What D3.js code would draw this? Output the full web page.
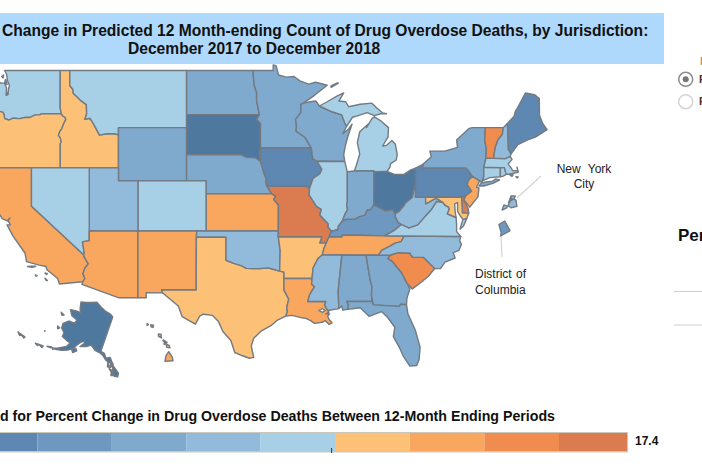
<!DOCTYPE html>
<html>
<head>
<meta charset="utf-8">
<script src="https://cdn.jsdelivr.net/npm/d3@7"></script>
<style>
  html, body { margin: 0; padding: 0; background: #fff; overflow: hidden; }
  svg { display: block; font-family: "Liberation Sans", Arial, sans-serif; }
</style>
</head>
<body>
<svg id="chart" width="702" height="468"></svg>
<script>
// Percent change per jurisdiction (estimates inside each legend bin)
const jurisdictions = ["WA","OR","ID","MT","WY","ND","SD","NE","KS","CO","UT","NV","CA","AZ","NM","TX","OK","MN","IA","MO","AR","LA","WI","IL","MI","IN","OH","KY","TN","MS","AL","GA","FL","SC","NC","VA","WV","PA","NY","NJ","DE","MD","CT","RI","MA","VT","NH","ME","AK","HI","DC","NYC"];
const percentChange = [-2.5,2.5,2.2,-2.8,-11.5,-11,-24,-11.5,6,-2,-7,-3,6.5,6.3,6.8,2.8,-7,-11,-20,14.5,3,6,-10.5,-3,-2.6,-11,-23,-15,6,-7.5,-10,-11,-10,10.5,-7,-3,-7.5,-19.5,-10.5,7,15,3.2,-3.5,-3,-3.5,11,-7,-19,-25,6.2,-13.5,-6];

const legendThresholds = [-22,-17.6,-13.2,-8.8,-4.4,0,4.4,8.8,13.2];
const legendColors = ["#4f789f","#5e88b2","#6f98c0","#7fa9cd","#92bbdb","#a7cfe6","#fdc077","#f9a65e","#ef8c4e","#da7c50"];
const legendMax = 17.4;

// Shared borders, lon/lat pairs
const colRiver = [-124,46.27,-123.5,46.27,-123.2,46.15,-122.9,46.1,-122.8,45.9,-122.75,45.65,-122.3,45.55,-121.9,45.68,-121.2,45.65,-120.65,45.73,-120.2,45.73,-119.6,45.92,-119.1,45.93,-118.98,46,-116.92,46];
const snake = [-116.92,46,-116.78,45.85,-116.55,45.75,-116.46,45.6,-116.67,45.3,-116.85,44.95,-117.05,44.75,-117.22,44.45,-117.03,44.25,-116.97,44.1,-116.93,43.95,-117.03,43.83,-117.03,42];
const bitterroot = [-116.05,49,-116.05,47.98,-115.72,47.7,-115.7,47.45,-114.95,46.95,-114.35,46.65,-114.32,46,-114.5,45.6,-114,45.68,-113.8,45.5,-113.45,45.05,-113,44.45,-112.3,44.55,-111.5,44.55,-111.05,44.48];
const redNorth = [-97.23,49,-97.1,48,-96.85,47.5,-96.85,46.9,-96.56,45.94];
const traverse = [-96.56,45.94,-96.85,45.6,-96.45,45.3,-96.45,43.5];
const missouriUpper = [-96.45,42.49,-97,42.77,-97.9,42.8,-98.5,43];
const missouriLower = [-96.45,42.49,-96.25,42,-96.1,41.6,-95.88,41.2,-95.85,40.7,-95.77,40.58];
const missouriKs = [-95.31,40,-94.9,39.8,-95.1,39.55,-94.61,39.1];
const mississippiTop = [-92.3,46.66,-92.3,46.1,-92.85,45.6,-92.75,45.1,-92.8,44.75,-91.9,44.3,-91.22,43.5];
const mississippiWi = [-91.22,43.5,-91.1,42.7,-90.65,42.5];
const mississippiIl = [-90.65,42.5,-90.15,41.9,-90.35,41.55,-91.05,41.2,-91.42,40.38];
const mississippiMo = [-91.42,40.38,-91.45,39.9,-90.7,39,-90.2,38.75,-90.35,38.3,-89.5,37.6,-89.5,37.3,-89.15,36.98];
const mississippiAr = [-89.7,36,-89.95,35.5,-90.1,35,-90.55,34.7,-91.05,33.9,-91.15,33];
const mississippiLa = [-91.15,33,-91.2,32.5,-90.9,32.3,-91.4,31.6,-91.6,31];
const pearlRiver = [-89.73,31,-89.85,30.65,-89.55,30.2];
const redSouth = [-100,34.56,-99.2,34.3,-98.5,34.12,-97.9,33.87,-97.2,33.85,-96.6,33.85,-95.6,33.9,-94.48,33.64];
const sabine = [-94.04,32,-93.55,31.2,-93.75,30.5,-93.7,30.1,-93.85,29.7];
const colorado = [-114.72,32.72,-114.5,33,-114.7,33.4,-114.5,33.9,-114.15,34.25,-114.55,34.8,-114.63,35];
const nvAz = [-114.63,35,-114.57,35.2,-114.75,36.1,-114.05,36.2];
const wabash = [-87.53,39.35,-87.6,39.1,-87.5,38.75,-87.75,38.4,-88.05,37.8];
const ohioIl = [-88.05,37.8,-88.45,37.4,-88.5,37.1,-89.15,36.98];
const ohioIn = [-84.82,39.1,-85.15,38.7,-85.45,38.72,-85.75,38.27,-86.3,38.15,-86.8,37.95,-87.6,37.95,-88.05,37.8];
const ohioOh = [-80.52,40.64,-80.65,40.4,-80.85,39.7,-81.55,39.27,-81.75,39,-82.2,38.6,-82.6,38.42];
const ohioKy = [-82.6,38.42,-82.85,38.72,-83.65,38.63,-84.25,38.9,-84.82,39.1];
const bigSandy = [-82.6,38.42,-82.6,38.15,-82.3,37.7,-81.97,37.54];
const kyVa = [-81.97,37.54,-82.7,37.05,-83.68,36.6];
const tnKy = [-83.68,36.6,-86.5,36.65,-88.07,36.65,-88.07,36.5,-89.42,36.5];
const tnNc = [-81.68,36.59,-82,36.12,-82.6,36,-83.1,35.77,-84,35.4,-84.32,34.99];
const alGa = [-85.6,34.98,-85.18,32.87,-85,32.3,-85.05,31.55,-85,31];
const savannah = [-83.1,35,-83.35,34.7,-82.9,34.47,-81.95,33.5,-81.4,32.6,-81.1,32.1];
const ncSc = [-83.1,35,-82.3,35.2,-81.05,35.15,-81.05,35.05,-80.8,34.82,-79.68,34.8,-78.55,33.86];
const potomac = [-76.35,38.1,-76.95,38.3,-77.25,38.4,-77.04,38.79,-77.12,38.93,-77.5,39.1,-77.72,39.32];
const vaWv = [-77.72,39.32,-78.35,39.4,-78.87,38.77,-79.3,38.4,-80.3,37.5,-81.2,37.25,-81.97,37.54];
const delaware = [-74.7,41.36,-75.1,41,-75.2,40.7,-74.75,40.2,-75.42,39.8];
const ctRiver = [-71.5,45,-71.6,44.5,-72.05,44.1,-72.3,43.6,-72.45,43,-72.46,42.73];
const nhMe = [-71.08,45.3,-71.03,44.65,-70.98,43.4,-70.7,43.07];

// Flat pair lists: reverse keeps each lon with its lat
const rev = flat => d3.range(flat.length - 2, -1, -2).flatMap(i => [flat[i], flat[i + 1]]);

const shapeWA = [[-122.75,49,-117.03,49,-117.04,46.42,...rev(colRiver),-124.1,46.9,-124.7,48.38,-123.1,48.15,-122.75,48.14,-122.55,47.8,-122.6,47.3,-122.4,47.35,-122.35,47.75,-122.25,47.98,-122.45,48.3,-122.55,48.75],[-122.75,48.18,-122.5,48.05,-122.65,48.4],[-123.05,48.6,-122.85,48.7,-122.9,48.5],[-122.55,47.5,-122.45,47.5,-122.5,47.35]];
const shapeOR = [[...colRiver,...snake,-124.2,42,-124.55,42.85,-124.1,44]];
const shapeID = [[-117.03,49,...bitterroot,-111.05,42,...rev(snake),-117.04,46.42]];
const shapeMT = [[...bitterroot.slice(0,2),-104.05,49,-104.05,45,-111.05,45,...rev(bitterroot).slice(0,-2)]];
const shapeWY = [[-111.05,45,-104.05,45,-104.05,41,-111.05,41]];
const shapeND = [[-104.05,49,...redNorth,-104.05,45.94]];
const shapeSD = [[-104.05,45.94,...traverse,-96.6,43.1,...missouriUpper,-104.05,43]];
const shapeNE = [[-104.05,43,...rev(missouriUpper),...missouriLower,-95.31,40,-102.05,40,-102.05,41,-104.05,41]];
const shapeKS = [[-102.05,40,...missouriKs,-94.62,37,-102.05,37]];
const shapeCO = [[-109.05,41,-102.05,41,-102.05,37,-109.05,37]];
const shapeUT = [[-114.05,42,-111.05,42,-111.05,41,-109.05,41,-109.05,37,-114.05,37]];
const shapeNV = [[-120,42,-114.05,42,...rev(nvAz),-120,39]];
const shapeCA = [[-124.2,42,-120,42,-120,39,-114.63,35,...rev(colorado),-117.12,32.53,-117.3,33,-118.4,33.75,-118.5,34.03,-119.2,34.15,-120.5,34.45,-120.65,35.15,-121.9,36.6,-122.5,37.5,-122.15,37.5,-122.4,37.85,-122.2,38.05,-122.5,37.82,-123,38,-123.7,38.9,-124.35,40.3,-124.1,41],[-120.4,34.03,-120,34.05,-119.55,34.05,-119.9,33.95],[-118.6,33.48,-118.35,33.42,-118.45,33.35],[-118.6,33.03,-118.35,32.82,-118.5,32.85],[-119.6,33.3,-119.4,33.25,-119.5,33.2]];
const shapeAZ = [[-109.05,37,-109.05,31.33,-111.07,31.33,-114.8,32.5,...colorado,...nvAz,-114.05,37]];
const shapeNM = [[-109.05,37,-103,37,-103.04,36.5,-103.06,32,-106.62,32,-106.5,31.75,-108.2,31.78,-108.2,31.33,-109.05,31.33]];
const shapeTX = [[-103.04,36.5,-100,36.5,...redSouth,-94.04,33.55,...sabine,-94.7,29.35,-95.3,28.9,-96.4,28.35,-97.15,27.7,-97.4,27,-97.15,25.95,-97.6,25.87,-98.3,26.1,-99.1,26.4,-99.5,27.5,-100.3,28.3,-100.8,29.25,-101.4,29.77,-102.35,29.87,-102.7,29.7,-103.15,28.98,-104.5,29.65,-104.9,30.6,-106.5,31.75,-106.62,32,-103.06,32]];
const shapeOK = [[-103,37,-94.62,37,-94.62,36.5,-94.43,35.4,...rev(redSouth),-100,36.5,-103.04,36.5]];
const shapeMN = [[...redNorth.slice(0,2),-95.15,49,-95.15,49.38,-94.85,49.33,-94.6,48.7,-93.8,48.55,-93,48.6,-92.4,48.3,-91.5,48.07,-90.8,48.2,-89.6,48,-90.9,47.3,-92.05,46.75,...mississippiTop,-96.45,43.5,...rev(traverse),...rev(redNorth).slice(2,-2)]];
const shapeIA = [[-96.45,43.5,-91.22,43.5,...mississippiWi,...mississippiIl,-91.7,40.6,-95.77,40.58,...rev(missouriLower)]];
const shapeMO = [[-95.77,40.58,-91.7,40.6,...mississippiMo,-89.42,36.5,...mississippiAr.slice(0,2),-90.37,36,-90.15,36.5,-94.62,36.5,-94.62,37,...rev(missouriKs)]];
const shapeAR = [[-94.62,36.5,-90.15,36.5,-90.37,36,...mississippiAr,-94.04,33,-94.04,33.55,-94.48,33.64,-94.43,35.4]];
const shapeLA = [[-94.04,33,...mississippiLa,...pearlRiver,-89.4,30.05,-89.75,29.9,-89.35,29.9,-89.55,29.7,-89.4,29.4,-89.1,29.1,-89.4,28.95,-89.8,29.3,-90.1,29.15,-90.9,29.05,-91.3,29.3,-91.8,29.5,-92.2,29.55,-93.2,29.77,...rev(sabine)],[-90.45,30.2,-90.1,30.38,-89.8,30.2,-90.1,30.03]];
const shapeWI = [[-92.05,46.75,-91.2,46.87,-90.75,46.9,-90.4,46.55,-89.1,46.14,-88.1,45.92,-87.8,45.35,-87.6,45.1,-88,44.55,-87.4,44.9,-87.05,45.25,-87.5,44.3,-87.75,43.6,-87.9,43,-87.8,42.49,...rev(mississippiWi),...rev(mississippiTop)]];
const shapeIL = [[...mississippiIl.slice(0,2),-87.8,42.49,-87.55,41.75,-87.53,41.7,...wabash,...ohioIl,...rev(mississippiMo).slice(2),...rev(mississippiIl).slice(2,-2)]];
const shapeMI = [[-86.8,41.76,-84.8,41.76,-84.8,41.7,-83.45,41.73,-83.15,42.05,-83.1,42.3,-82.5,42.6,-82.4,43,-82.6,43.8,-82.95,44.05,-83.5,43.7,-83.9,43.65,-83.35,44.3,-83.3,45,-84.1,45.5,-84.75,45.78,-85,45.65,-85.55,45,-85.4,45.25,-86.25,44.7,-86.5,43.9,-86.25,43.05,-86.6,42.2],[-90.4,46.55,-89.1,46.14,-88.1,45.92,-87.8,45.35,-87.6,45.1,-87,45.75,-86.5,45.85,-85.5,46.08,-84.75,45.87,-84.1,46,-83.5,46,-83.9,46.05,-84.55,46.45,-85,46.75,-86.2,46.67,-87.4,46.5,-87.7,46.85,-88.4,46.9,-87.9,47.47,-88.6,47.25,-89.6,46.85],[-89.2,47.85,-88.45,48.15,-88.6,48.15,-89.2,47.95]];
const shapeIN = [[-87.53,41.7,-86.8,41.76,-84.8,41.76,...ohioIn,...rev(wabash)]];
const shapeOH = [[-84.8,41.7,-83.45,41.73,-82.7,41.5,-81.7,41.5,-81,41.85,-80.52,41.98,...ohioOh,...ohioKy]];
const shapeKY = [[...tnKy.slice(-2),-89.15,36.98,...rev(ohioIl),...rev(ohioIn),...rev(ohioKy).slice(2),...bigSandy,...kyVa,...tnKy.slice(2,-2)]];
const shapeTN = [[-89.42,36.5,...rev(tnKy),-81.68,36.59,...tnNc,-88.2,35,-90.1,35,-89.95,35.5,-89.7,36]];
const shapeMS = [[-90.1,35,-88.2,35,-88.1,34.9,-88.47,31.9,-88.4,30.37,...rev(pearlRiver),...rev(mississippiLa),-91.05,33.9,-90.55,34.7]];
const shapeAL = [[-88.2,35,...alGa,-87.6,31,-87.4,30.7,-87.5,30.3,-88,30.23,-88.1,30.6,-88.4,30.37,-88.47,31.9,-88.1,34.9]];
const shapeGA = [[...alGa.slice(0,2),-83.1,35,...savannah.slice(2),-81.4,31.3,-81.45,30.72,-82.05,30.75,-82.2,30.57,-84.86,30.7,...rev(alGa).slice(2,-2)]];
const shapeFL = [[-87.6,31,-85,31,-84.86,30.7,-82.2,30.57,-82.05,30.75,-81.45,30.72,-81.3,29.9,-80.55,28.45,-80.05,26.9,-80.15,25.75,-80.4,25.2,-81.1,25.15,-81.8,26.1,-82.2,26.9,-82.8,27.85,-82.65,28.7,-83.4,29.6,-84,30.1,-85.3,29.68,-86.2,30.45,-87.5,30.3,-87.4,30.7]];
const shapeSC = [[...ncSc,-79.2,33.2,-79.9,32.7,-80.85,32.1,...rev(savannah).slice(2)]];
const shapeNC = [[-84.32,34.99,...rev(tnNc),-75.87,36.55,-76,36.2,-75.8,35.9,-76.05,35.4,-76.65,35.2,-76.45,34.75,-77.5,34.4,-77.95,33.85,...rev(ncSc)]];
const shapeVA = [[-83.68,36.6,-81.68,36.59,-75.87,36.55,-76.3,36.95,-76.3,37.55,...potomac,...vaWv,...kyVa.slice(2)],[-75.95,37.15,-75.65,37.95,-75.25,38.03,-75.6,37.4]];
const shapeWV = [[-80.52,40.64,-80.52,39.72,-79.48,39.72,-79.48,39.2,-78.4,39.65,...vaWv,...rev(bigSandy).slice(2),...rev(ohioOh).slice(2)]];
const shapePA = [[-80.52,41.98,-79.76,42.27,-79.76,42,-75.35,42,-75.05,41.75,...delaware,-75.79,39.72,-80.52,39.72]];
const shapeNY = [[-79.76,42.27,-78.9,42.85,-79.05,43.27,-77.5,43.27,-76.2,43.55,-76.3,44.1,-75,44.95,-74.7,45,-73.35,45,-73.4,44,-73.25,43.55,-73.28,42.75,-73.5,42.05,-73.5,41.3,-73.65,41,-73.75,40.9,-73.93,41,-74.7,41.36,-75.05,41.75,-75.35,42,-79.76,42],[-74,40.6,-73.75,40.85,-72.6,40.98,-72.3,41.15,-71.87,41.07,-72.5,40.82,-73.5,40.6]];
const shapeNJ = [[...delaware,-75.55,39.5,-74.95,38.93,-74.1,39.75,-74,40.45,-74.25,40.5,-73.93,41]];
const shapeDE = [[-75.79,39.72,-75.42,39.8,-75.55,39.5,-75.1,38.8,-75.05,38.45,-75.7,38.46]];
const shapeMD = [[-79.48,39.72,-75.79,39.72,-75.7,38.46,-75.05,38.45,-75.25,38.03,-75.65,37.95,-75.9,38.2,-76.2,38.6,-76.2,39.3,-76.5,39.2,-76.45,38.6,...potomac,-78.4,39.65,-79.48,39.2]];
const shapeCT = [[-73.5,42.05,-71.8,42.02,-71.8,41.32,-72.9,41.25,-73.65,41,-73.5,41.3]];
const shapeRI = [[-71.8,42.02,-71.38,42.02,-71.2,41.5,-71.5,41.37,-71.8,41.32]];
const shapeMA = [[-73.28,42.75,-72.46,42.73,-71.3,42.7,-70.8,42.87,-70.6,42.65,-71,42.3,-70.65,41.95,-70.55,41.8,-70,41.78,-70.1,42.05,-69.95,41.68,-70.65,41.55,-71.2,41.5,-71.38,42.02,-71.8,42.02,-73.5,42.05],[-70.8,41.45,-70.5,41.47,-70.6,41.35],[-70.2,41.32,-69.97,41.3,-70.05,41.23]];
const shapeVT = [[-73.35,45,...ctRiver,-73.28,42.75,-73.25,43.55,-73.4,44]];
const shapeNH = [[-71.5,45,-71.08,45.3,...nhMe,-70.8,42.87,-71.3,42.7,...rev(ctRiver).slice(0,-2)]];
const shapeME = [[...nhMe.slice(0,2),-70.4,45.8,-70.25,46.2,-70.05,46.4,-69.23,47.46,-68.3,47.35,-67.8,47.07,-67.78,45.9,-67.45,45.3,-67,44.85,-68.2,44.3,-69,44.1,-70,43.75,-70.7,43.07,...rev(nhMe).slice(2,-2)]];
const shapeAK = [[-141,69.65,-143,70.1,-148,70.4,-152,70.85,-156.6,71.35,-160,70.5,-163,69.7,-166.2,68.9,-164,67.6,-163,67.1,-161.8,66.6,-164,66.5,-168,65.6,-165,64.7,-161,64.6,-161,63.6,-164.5,63.1,-166,61.7,-165,60.6,-162.5,60,-162,59,-158.5,58.8,-157,58.8,-157.6,57.5,-160.5,55.9,-163,54.9,-164.8,54.6,-163,55.2,-161,55.3,-158.5,56,-156,57,-154,58.2,-153.5,59.3,-152.5,60.3,-151.2,61,-150.5,60.6,-151.8,59.3,-149,60,-147,60.9,-144,60,-141,59.8,-139.5,59.5,-137.5,58.6,-136,58.2,-134.5,56.5,-131.6,55,-130.1,55,-130.1,56,-133,57.5,-135.5,59.5,-137.5,59,-139,60.1,-141,60.3],[-154.5,57.5,-153,58.3,-152.2,57.9,-153.5,57],[-133.5,56.3,-132,55.4,-131.5,55.2,-133.2,55],[-136,58,-134.8,58.3,-134.2,57,-135.7,57],[-134.5,57.5,-133,57.3,-133,56.4,-134.5,56.5],[-135,58.4,-133.5,58.2,-133,56.8,-132,56],[-168,53.6,-166.2,54,-166.2,53.5],[-169.5,53.2,-168,53.6,-168.2,53.1],[-176.7,52.1,-174.5,52.4,-174.5,52],[-178,51.9,-176,52,-176.5,51.6],[-171,63.5,-168.7,63.5,-169.5,63.1],[-167.3,60.3,-165.8,60.3,-166.3,59.8],[-170.4,57.2,-170.1,57.2,-170.2,57.1],[-162.5,55.1,-161.5,55.3,-162,54.9]];
const shapeHI = [[-155.9,20.25,-155.1,19.85,-154.8,19.5,-155.7,18.95,-155.95,19.6],[-156.7,20.9,-156.25,20.95,-156,20.75,-156.4,20.6],[-158.25,21.55,-157.95,21.7,-157.65,21.3,-158.1,21.3],[-159.75,22.1,-159.4,22.23,-159.3,21.95,-159.6,21.9],[-157.3,21.2,-156.7,21.17,-156.7,21.05,-157.3,21.1],[-157,20.9,-156.85,20.9,-156.9,20.75],[-160.25,22,-160.05,22,-160.15,21.8]];
const shapeDC = [[-77.12,38.93,-77.04,38.995,-76.91,38.89,-77.04,38.79,-77.05,38.84]];
const shapeNYC = [[-74.25,40.5,-74.18,40.64,-74.05,40.6,-74.1,40.55],[-74.04,40.62,-73.96,40.74,-73.83,40.8,-73.75,40.76,-73.72,40.6,-73.93,40.56],[-74.02,40.7,-73.93,40.88,-73.97,40.75],[-73.93,40.88,-73.78,40.88,-73.82,40.8,-73.92,40.8]];

const shapes = {WA:shapeWA,OR:shapeOR,ID:shapeID,MT:shapeMT,WY:shapeWY,ND:shapeND,SD:shapeSD,NE:shapeNE,KS:shapeKS,CO:shapeCO,UT:shapeUT,NV:shapeNV,CA:shapeCA,AZ:shapeAZ,NM:shapeNM,TX:shapeTX,OK:shapeOK,MN:shapeMN,IA:shapeIA,MO:shapeMO,AR:shapeAR,LA:shapeLA,WI:shapeWI,IL:shapeIL,MI:shapeMI,IN:shapeIN,OH:shapeOH,KY:shapeKY,TN:shapeTN,MS:shapeMS,AL:shapeAL,GA:shapeGA,FL:shapeFL,SC:shapeSC,NC:shapeNC,VA:shapeVA,WV:shapeWV,PA:shapePA,NY:shapeNY,NJ:shapeNJ,DE:shapeDE,MD:shapeMD,CT:shapeCT,RI:shapeRI,MA:shapeMA,VT:shapeVT,NH:shapeNH,ME:shapeME,AK:shapeAK,HI:shapeHI,DC:shapeDC,NYC:shapeNYC};

const svg = d3.select("#chart");
const color = d3.scaleThreshold().domain(legendThresholds).range(legendColors);

// Flat list -> closed ring of [lon, lat]
const toRing = flat => {
  const ring = d3.range(0, flat.length, 2).map(i => [flat[i], flat[i + 1]]);
  ring.push(ring[0]);
  return ring;
};
const toPoints = rings => ({ type: "MultiPoint", coordinates: rings.flatMap(toRing) });

// Lower 48 is plain web mercator; insets get their own projections
const mainProj = d3.geoMercator().scale(557.5).translate([1199, 619]);
const akProj = d3.geoConicEqualArea().rotate([119, 0]).parallels([55, 65]).scale(223);
// pin the Yukon border corner where the reference has it
const akCorner = akProj([-141, 69.65]);
const akTranslate = akProj.translate();
akProj.translate([akTranslate[0] + 112.7 - akCorner[0], akTranslate[1] + 317 - akCorner[1]]);
const hiProj = d3.geoMercator().angle(-29)
  .fitExtent([[147, 323], [173, 362]], toPoints(shapeHI));
const dcProj = d3.geoMercator().angle(-15)
  .fitExtent([[498, 221], [511, 236]], toPoints(shapeDC));
const nycProj = d3.geoMercator()
  .fitExtent([[502, 196], [517, 210]], toPoints(shapeNYC));
const projections = { AK: akProj, HI: hiProj, DC: dcProj, NYC: nycProj };

// Planar transform so ring winding does not matter
const pathFor = id => {
  const p = projections[id] || mainProj;
  return d3.geoPath(d3.geoTransform({
    point(x, y) {
      const q = p([x, y]);
      this.stream.point(q[0], q[1]);
    }
  }));
};

// Title band
svg.append("rect").attr("x", 0).attr("y", 13).attr("width", 664).attr("height", 51).attr("fill", "#aed8fc");
svg.append("g").selectAll("text")
  .data([
    { t: "Change in Predicted 12 Month-ending Count of Drug Overdose Deaths, by Jurisdiction:", x: 2, y: 36 },
    { t: "December 2017 to December 2018", x: 128, y: 54 }
  ])
  .enter().append("text")
  .attr("x", d => d.x).attr("y", d => d.y)
  .attr("font-size", 15.6).attr("font-weight", "bold").attr("fill", "#111")
  .text(d => d.t);

// Leader lines for the city insets
svg.append("g").attr("stroke", "#d4d4d4").attr("stroke-width", 1.2)
  .selectAll("line")
  .data([[541, 176, 517, 198], [501, 236, 502, 257]])
  .enter().append("line")
  .attr("x1", d => d[0]).attr("y1", d => d[1]).attr("x2", d => d[2]).attr("y2", d => d[3]);

// Jurisdictions
const jurisdictionData = jurisdictions.map((id, i) => ({ id, value: percentChange[i] }));
svg.append("g").selectAll("path")
  .data(jurisdictionData)
  .enter().append("path")
  .attr("d", d => pathFor(d.id)({ type: "MultiPolygon", coordinates: shapes[d.id].map(r => [toRing(r)]) }))
  .attr("fill", d => color(d.value))
  .attr("fill-rule", "evenodd")
  .attr("stroke", "#727a82")
  .attr("stroke-width", 1.4)
  .attr("stroke-linejoin", "round");

// City labels
svg.append("g").selectAll("text")
  .data([
    { t: "New York", x: 584, y: 173, a: "middle" },
    { t: "City", x: 584, y: 188, a: "middle" },
    { t: "District of", x: 475, y: 278, a: "start" },
    { t: "Columbia", x: 475, y: 294, a: "start" }
  ])
  .enter().append("text")
  .attr("x", d => d.x).attr("y", d => d.y)
  .attr("text-anchor", d => d.a)
  .attr("font-size", 12).attr("fill", "#222")
  .attr("word-spacing", d => d.t === "New York" ? 4 : 1)
  .text(d => d.t);

// Colour legend
const legendX = d3.scaleLinear().domain([-22, 0, 13.2, legendMax]).range([-37, 335, 559, 627]);
const legendBins = d3.range(1, legendColors.length).map(i => ({
  lo: legendThresholds[i - 1],
  hi: i < legendThresholds.length ? legendThresholds[i] : legendMax,
  fill: legendColors[i]
}));
svg.append("text").attr("x", 555).attr("y", 421).attr("text-anchor", "end")
  .attr("font-size", 14.2).attr("font-weight", "bold").attr("fill", "#111")
  .text("Legend for Percent Change in Drug Overdose Deaths Between 12-Month Ending Periods");
svg.append("rect").attr("x", -40).attr("y", 433).attr("width", 667).attr("height", 18.5)
  .attr("fill", "none").attr("stroke", "#cbc7bb").attr("stroke-width", 2);
svg.append("g").selectAll("rect")
  .data(legendBins)
  .enter().append("rect")
  .attr("x", d => legendX(d.lo)).attr("y", 433)
  .attr("width", d => legendX(d.hi) - legendX(d.lo)).attr("height", 18)
  .attr("fill", d => d.fill);
svg.append("line").attr("x1", legendX(-0.2)).attr("x2", legendX(-0.2)).attr("y1", 448).attr("y2", 453)
  .attr("stroke", "#333").attr("stroke-width", 1);
svg.append("text").attr("x", 635).attr("y", 445)
  .attr("font-size", 12).attr("font-weight", "bold").attr("fill", "#111").text(legendMax);

// Controls cut off by the right edge of the frame
svg.append("circle").attr("cx", 685.7).attr("cy", 79.3).attr("r", 7).attr("fill", "#fff").attr("stroke", "#8c8c8c").attr("stroke-width", 1.5);
svg.append("circle").attr("cx", 685.7).attr("cy", 79.3).attr("r", 3).attr("fill", "#777");
svg.append("circle").attr("cx", 685.7).attr("cy", 101.7).attr("r", 7).attr("fill", "#fff").attr("stroke", "#d5d5d5").attr("stroke-width", 1.5);
svg.append("g").selectAll("text")
  .data([{ t: "Predicted Value", y: 83 }, { t: "Reported Value", y: 105 }])
  .enter().append("text")
  .attr("x", 699).attr("y", d => d.y).attr("font-size", 11).attr("font-weight", "bold").attr("fill", "#5b2e0f")
  .text(d => d.t);
svg.append("text").attr("x", 700).attr("y", 65).attr("font-size", 10).attr("fill", "#b5651d").text("I");
svg.append("text").attr("x", 678).attr("y", 241).attr("font-size", 17).attr("font-weight", "bold").attr("fill", "#111").text("Percent");
svg.append("g").attr("stroke", "#cfcfcf").attr("stroke-width", 1)
  .selectAll("line").data([291.5, 325]).enter().append("line")
  .attr("x1", 674).attr("x2", 702).attr("y1", d => d).attr("y2", d => d);
</script>
</body>
</html>
